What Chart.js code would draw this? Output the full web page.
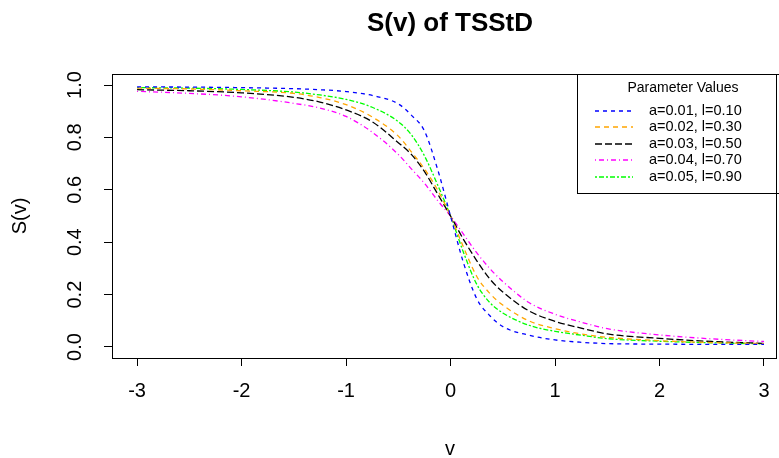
<!DOCTYPE html>
<html>
<head>
<meta charset="utf-8">
<script src="https://cdn.jsdelivr.net/npm/chart.js@4.4.0/dist/chart.umd.min.js"></script>
<style>
  html, body { margin: 0; padding: 0; background: #fff; }
  #wrap { width: 779px; height: 458px; }
</style>
</head>
<body>
<div id="wrap"><canvas id="svChart" width="779" height="458"></canvas></div>
<script>
// grid of v values where the curves were read
var vGrid = [-3, -2.5, -2, -1.5, -1.25, -1, -0.75, -0.5, -0.375, -0.25, -0.125, 0,
             0.125, 0.25, 0.375, 0.5, 0.75, 1, 1.25, 1.5, 2, 2.5, 3];

var sBlue    = [0.993, 0.992, 0.990, 0.986, 0.982, 0.975, 0.960, 0.928, 0.885, 0.825, 0.680, 0.500,
                0.320, 0.185, 0.120, 0.078, 0.045, 0.027, 0.018, 0.013, 0.011, 0.010, 0.010];
var sOrange  = [0.988, 0.985, 0.978, 0.968, 0.952, 0.925, 0.878, 0.805, 0.745, 0.680, 0.600, 0.500,
                0.380, 0.270, 0.205, 0.160, 0.100, 0.070, 0.050, 0.037, 0.024, 0.017, 0.013];
var sBlack   = [0.982, 0.978, 0.970, 0.953, 0.935, 0.905, 0.860, 0.780, 0.735, 0.670, 0.585, 0.500,
                0.410, 0.330, 0.260, 0.210, 0.138, 0.098, 0.072, 0.050, 0.033, 0.021, 0.014];
var sMagenta = [0.976, 0.968, 0.955, 0.930, 0.912, 0.880, 0.820, 0.735, 0.680, 0.625, 0.560, 0.500,
                0.430, 0.360, 0.300, 0.250, 0.170, 0.125, 0.095, 0.070, 0.046, 0.031, 0.021];
var sGreen   = [0.990, 0.988, 0.983, 0.973, 0.962, 0.945, 0.915, 0.860, 0.810, 0.730, 0.620, 0.500,
                0.360, 0.240, 0.170, 0.130, 0.083, 0.060, 0.045, 0.032, 0.022, 0.016, 0.012];

var seriesLabels = ["a=0.01, l=0.10", "a=0.02, l=0.30", "a=0.03, l=0.50", "a=0.04, l=0.70", "a=0.05, l=0.90"];
var xTicks = [-3, -2, -1, 0, 1, 2, 3];
var yTicks = [0, 0.2, 0.4, 0.6, 0.8, 1];
var yTickLabels = ["0.0", "0.2", "0.4", "0.6", "0.8", "1.0"];

function pts(ys) {
    return vGrid.map(function(v, i) { return { x: v, y: ys[i] }; });
}

function line(label, ys, color, dash) {
    return {
        label: label,
        data: pts(ys),
        borderColor: color,
        backgroundColor: 'transparent',
        borderWidth: 1.3,
        borderDash: dash,
        pointRadius: 0,
        showLine: true,
        fill: false,
        cubicInterpolationMode: 'monotone'
    };
}

var FONT = '"Liberation Sans", Arial, sans-serif';

// R-like texts: title, axis titles, rotated y labels, legend
var rDecor = {
    id: 'rDecor',
    afterDraw: function(chart) {
        var ctx = chart.ctx;
        var area = chart.chartArea;
        var ys = chart.scales.y;
        var xs = chart.scales.x;
        ctx.save();
        ctx.fillStyle = '#000';

        // box
        ctx.strokeStyle = '#000';
        ctx.lineWidth = 1;
        ctx.setLineDash([]);
        ctx.strokeRect(Math.round(area.left) + 0.5, Math.round(area.top) + 0.5,
                       Math.round(area.right - area.left), Math.round(area.bottom - area.top));

        // main title
        ctx.font = 'bold 26px ' + FONT;
        ctx.textAlign = 'center';
        ctx.textBaseline = 'middle';
        ctx.fillText('S(v) of TSStD', 450, 24);

        // x tick labels
        ctx.font = '20px ' + FONT;
        xTicks.forEach(function(v) {
            ctx.fillText(String(v), xs.getPixelForValue(v), 391);
        });

        // y tick labels (rotated, like R)
        yTicks.forEach(function(v, i) {
            ctx.save();
            ctx.translate(75, ys.getPixelForValue(v));
            ctx.rotate(-Math.PI / 2);
            ctx.fillText(yTickLabels[i], 0, 0);
            ctx.restore();
        });

        // axis titles
        ctx.fillText('v', 450, 449);
        ctx.save();
        ctx.translate(20, (area.top + area.bottom) / 2);
        ctx.rotate(-Math.PI / 2);
        ctx.fillText('S(v)', 0, 0);
        ctx.restore();

        // legend
        var lx = 577.5, ly = Math.round(area.top) + 0.5;
        ctx.strokeRect(lx, ly, 220, 119);
        ctx.font = '14px ' + FONT;
        ctx.fillText('Parameter Values', 683, 88);
        var rows = [111, 127, 144, 160, 177];
        ctx.textAlign = 'left';
        chart.data.datasets.forEach(function(ds, i) {
            ctx.strokeStyle = ds.borderColor;
            ctx.lineWidth = 1.3;
            ctx.setLineDash(ds.borderDash);
            ctx.beginPath();
            ctx.moveTo(595, rows[i]);
            ctx.lineTo(633, rows[i]);
            ctx.stroke();
            ctx.fillStyle = '#000';
            ctx.font = '14.5px ' + FONT;
            ctx.fillText(ds.label, 649, rows[i]);
        });
        ctx.restore();
    }
};

var ctx = document.getElementById('svChart');
var chart = new Chart(ctx, {
    type: 'scatter',
    data: {
        datasets: [
            line(seriesLabels[0], sBlue, '#0000FF', [4, 4]),
            line(seriesLabels[1], sOrange, '#FFA500', [5, 4]),
            line(seriesLabels[2], sBlack, '#000000', [7, 3]),
            line(seriesLabels[3], sMagenta, '#FF00FF', [1, 3, 5, 3]),
            line(seriesLabels[4], sGreen, '#00FF00', [2, 2, 5, 2])
        ]
    },
    plugins: [rDecor],
    options: {
        responsive: false,
        animation: false,
        layout: { padding: { top: 74, right: 3, left: 0, bottom: 0 } },
        plugins: {
            legend: { display: false },
            tooltip: { enabled: false }
        },
        scales: {
            x: {
                type: 'linear',
                min: -3.24,
                max: 3.115,
                afterBuildTicks: function(s) { s.ticks = xTicks.map(function(v) { return { value: v }; }); },
                afterFit: function(s) { s.height = 100; },
                ticks: { display: false },
                grid: { drawOnChartArea: false, tickLength: 8, color: '#000', tickColor: '#000' },
                border: { display: false }
            },
            y: {
                type: 'linear',
                min: -0.042,
                max: 1.042,
                afterBuildTicks: function(s) { s.ticks = yTicks.map(function(v) { return { value: v }; }); },
                afterFit: function(s) { s.width = 112; },
                ticks: { display: false },
                grid: { drawOnChartArea: false, tickLength: 8, color: '#000', tickColor: '#000' },
                border: { display: false }
            }
        }
    }
});
</script>
</body>
</html>
